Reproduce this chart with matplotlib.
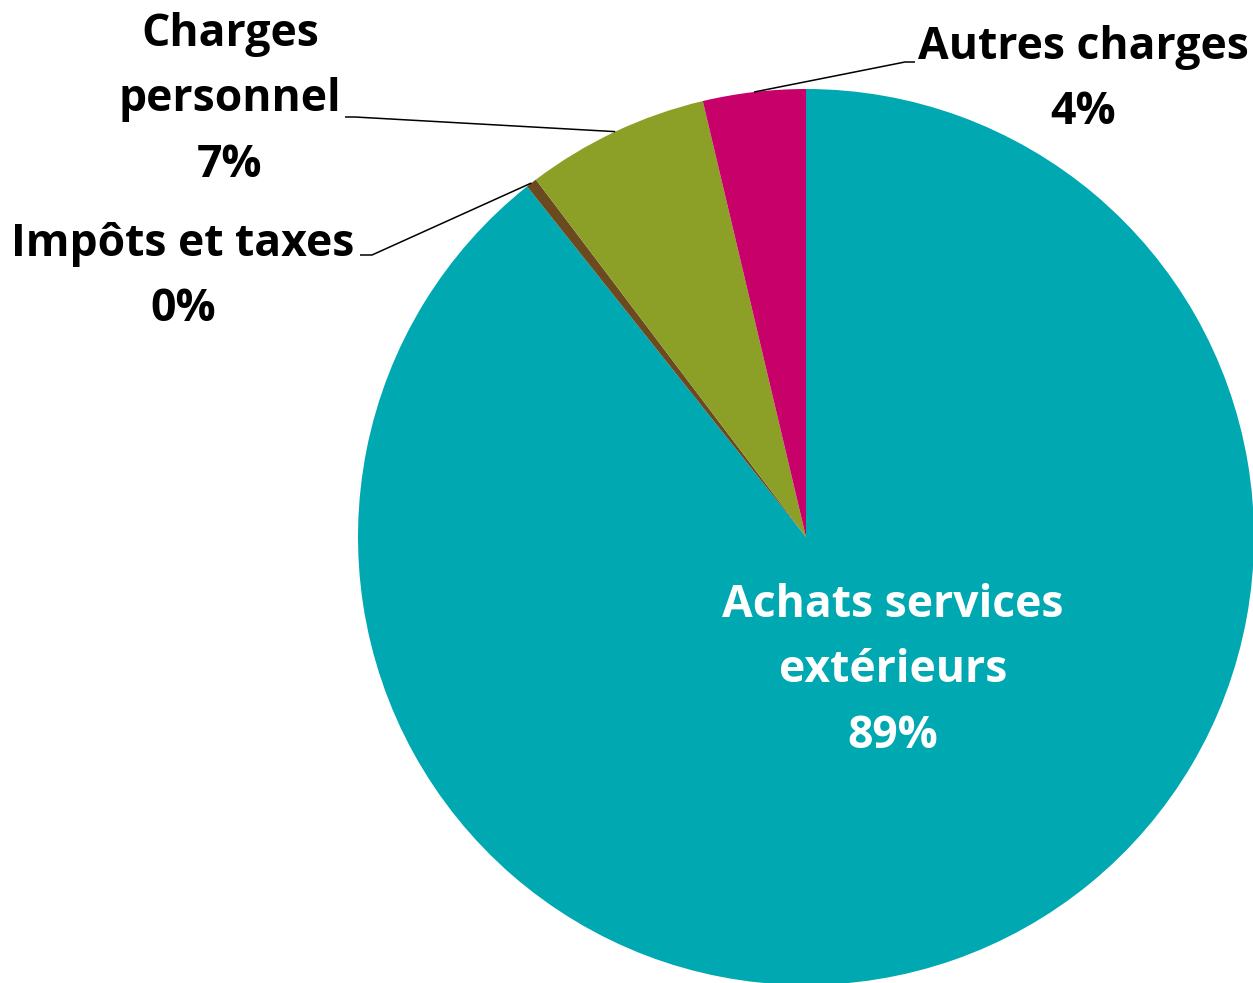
import numpy as np
import matplotlib
matplotlib.use('Agg')
import matplotlib.pyplot as plt

# Data (shares of total charges)
categories = ['Achats services\nextérieurs', 'Impôts et taxes', 'Charges\npersonnel', 'Autres charges']
values = [89.3, 0.4, 6.6, 3.7]
colors = ['#00A8B1', '#6B4A1F', '#8CA028', '#C8006A']

plt.rcParams['font.family'] = ['Open Sans', 'DejaVu Sans']
plt.rcParams['font.weight'] = 'bold'

W, H = 1253, 983
fig = plt.figure(figsize=(W / 100, H / 100), dpi=100)
ax = fig.add_axes([0, 0, 1, 1])

center = (806, H - 537)
radius = 448

wedges, _ = ax.pie(values, colors=colors, startangle=90, counterclock=False,
                   center=center, radius=radius, wedgeprops=dict(linewidth=0))

ax.set_xlim(0, W)
ax.set_ylim(0, H)
ax.set_aspect('equal')
ax.axis('off')

total = sum(values)
pcts = ['%.0f%%' % (v / total * 100) for v in values]

# label positions (text centre) and leader elbow/end points, in pixel coords from top
label_pos = [(893, 671), (183, 277), (230, 100), (1083, 80)]
leader = [None, [(372, 255), (360, 255)], [(355, 117), (345, 117)], [(905, 62), (915, 62)]]
text_col = ['white', 'black', 'black', 'black']

fs = 32
cum = 0
for i, v in enumerate(values):
    mid = cum + v / 2
    cum += v
    ang = np.deg2rad(90 - mid / total * 360)
    sx = center[0] + radius * np.cos(ang)
    sy = center[1] + radius * np.sin(ang)
    if leader[i] is not None:
        xs = [sx] + [p[0] for p in leader[i]]
        ys = [sy] + [H - p[1] for p in leader[i]]
        ax.plot(xs, ys, color='black', lw=1.1, solid_capstyle='butt', clip_on=False)
    lx, ly = label_pos[i]
    ax.text(lx, H - ly, categories[i] + '\n' + pcts[i], ha='center', va='center',
            multialignment='center', fontsize=fs, fontweight='bold',
            color=text_col[i], linespacing=1.6)

fig.savefig('out.png', dpi=100)
